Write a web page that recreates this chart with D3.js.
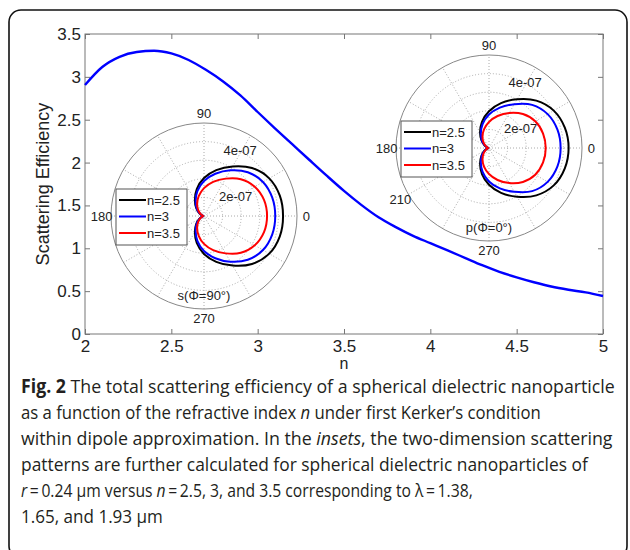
<!DOCTYPE html>
<html>
<head>
<meta charset="utf-8">
<script src="https://cdn.jsdelivr.net/npm/d3@7"></script>
<style>
  body { margin: 0; background: #fff; }
  svg { display: block; }
  svg text { font-family: "Liberation Sans", Arial, Helvetica, sans-serif; }
  svg .caption text { font-family: "Open Sans", "Noto Sans", sans-serif; fill: #231f20; }
</style>
</head>
<body>
<div id="chart"></div>
<script>
// main curve: total scattering efficiency vs refractive index n
const nValues = [2.0, 2.1, 2.2, 2.3, 2.4, 2.5, 2.6, 2.7, 2.8, 2.9, 3.0,
                 3.1, 3.2, 3.3, 3.4, 3.5, 3.6, 3.7, 3.8, 3.9, 4.0,
                 4.1, 4.2, 4.3, 4.4, 4.5, 4.6, 4.7, 4.8, 4.9, 5.0];
const efficiency = [2.905, 3.115, 3.234, 3.290, 3.304, 3.273, 3.197, 3.082, 2.946, 2.783, 2.590,
                    2.400, 2.215, 2.030, 1.847, 1.670, 1.507, 1.362, 1.247, 1.145, 1.060,
                    0.975, 0.889, 0.803, 0.726, 0.661, 0.604, 0.554, 0.516, 0.485, 0.443];
const xTicks = [2, 2.5, 3, 3.5, 4, 4.5, 5];
const yTicks = [0, 0.5, 1, 1.5, 2, 2.5, 3, 3.5];

// inset patterns, upper half (the lower half is the mirror image), units of 1e-07
const polarAngles = [0, 15, 30, 45, 60, 75, 90, 105, 120, 135, 150, 165, 180];
const sN25 = [4.25, 4.22, 4.05, 3.65, 3.08, 2.55, 2.04, 1.50, 0.98, 0.58, 0.28, 0.10, 0.04];
const sN3  = [3.83, 3.80, 3.66, 3.33, 2.84, 2.35, 1.88, 1.38, 0.90, 0.53, 0.25, 0.09, 0.04];
const sN35 = [3.39, 3.34, 3.15, 2.80, 2.32, 1.90, 1.50, 1.10, 0.74, 0.44, 0.21, 0.08, 0.04];
const pN25 = [4.28, 4.22, 4.02, 3.60, 3.02, 2.50, 1.98, 1.46, 0.96, 0.57, 0.27, 0.10, 0.04];
const pN3  = [3.85, 3.81, 3.64, 3.28, 2.72, 2.25, 1.80, 1.33, 0.88, 0.52, 0.25, 0.09, 0.04];
const pN35 = [3.05, 3.01, 2.87, 2.58, 2.18, 1.78, 1.40, 1.04, 0.70, 0.42, 0.20, 0.08, 0.04];
const legendLabels = ['n=2.5', 'n=3', 'n=3.5'];
const seriesColors = ['#000000', '#0000ff', '#ff0000'];
const ringValues = [1e-7, 2e-7, 3e-7, 4e-7, 5e-7];
const ringLabels = ['2e-07', '4e-07'];
const ringLabelValues = [2e-7, 4e-7];
const spokeAngles = [0, 30, 60, 90, 120, 150];
const sAngleLabels = [0, 90, 180, 270];
const pAngleLabels = [0, 90, 180, 210, 270];

const captionLines = [
  [{t: 'Fig. 2', b: true}, {t: ' The total scattering efficiency of a spherical dielectric nanoparticle'}],
  [{t: 'as a function of the refractive index '}, {t: 'n', i: true}, {t: ' under first Kerker\u2019s condition'}],
  [{t: 'within dipole approximation. In the '}, {t: 'insets', i: true}, {t: ', the two-dimension scattering'}],
  [{t: 'patterns are further calculated for spherical dielectric nanoparticles of'}],
  [{t: 'r', i: true}, {t: '\u2009=\u20090.24 \u00b5m versus '}, {t: 'n', i: true}, {t: '\u2009=\u20092.5, 3, and 3.5 corresponding to \u03bb\u2009=\u20091.38,'}],
  [{t: '1.65, and 1.93 \u00b5m'}]
];
const captionWidths = [594, 520, 592, 567, 452, 142];

const W = 630, H = 550;
const margin = { top: 34, right: 27, bottom: 216, left: 85 };

const svg = d3.select('#chart').append('svg')
    .attr('width', W)
    .attr('height', H);

svg.append('rect')
    .attr('x', 9).attr('y', 10)
    .attr('width', 618).attr('height', 548)
    .attr('rx', 12)
    .attr('fill', 'none')
    .attr('stroke', '#111')
    .attr('stroke-width', 1.6);

const x = d3.scaleLinear().domain([2, 5]).range([margin.left, W - margin.right]);
const y = d3.scaleLinear().domain([0, 3.5]).range([H - margin.bottom, margin.top]);

const axisColor = '#777';
function styleAxis(g) {
  g.attr('font-family', null).attr('font-size', null);
  g.select('.domain').remove();
  g.selectAll('line').attr('stroke', axisColor);
  g.selectAll('text').attr('fill', '#222').style('font-size', '17px');
}

svg.append('g')
    .attr('transform', 'translate(0,' + y(0) + ')')
    .call(d3.axisBottom(x).tickValues(xTicks).tickSize(-5).tickPadding(6).tickFormat(d3.format('')))
    .call(styleAxis);
svg.append('g')
    .attr('transform', 'translate(0,' + y(3.5) + ')')
    .call(d3.axisTop(x).tickValues(xTicks).tickSize(-5).tickFormat(''))
    .call(styleAxis);
svg.append('g')
    .attr('transform', 'translate(' + x(2) + ',0)')
    .call(d3.axisLeft(y).tickValues(yTicks).tickSize(-5).tickPadding(4).tickFormat(d3.format('')))
    .call(styleAxis);
svg.append('g')
    .attr('transform', 'translate(' + x(5) + ',0)')
    .call(d3.axisRight(y).tickValues(yTicks).tickSize(-5).tickFormat(''))
    .call(styleAxis);

svg.append('rect')
    .attr('x', x(2)).attr('y', y(3.5))
    .attr('width', x(5) - x(2)).attr('height', y(0) - y(3.5))
    .attr('fill', 'none')
    .attr('stroke', axisColor);

svg.append('text')
    .attr('transform', 'translate(49,' + ((y(0) + y(3.5)) / 2) + ') rotate(-90)')
    .attr('text-anchor', 'middle')
    .style('font-size', '18px')
    .attr('fill', '#222')
    .text('Scattering Efficiency');

svg.append('text')
    .attr('x', (x(2) + x(5)) / 2)
    .attr('y', 369)
    .attr('text-anchor', 'middle')
    .style('font-size', '16px')
    .attr('fill', '#222')
    .text('n');

// insets
const rScale = d3.scaleLinear().domain([0, 5e-7]).range([0, 93]);
const rad = a => a * Math.PI / 180;

function drawInset(cx, cy, series, angleLabels, modeLabel) {
  const g = svg.append('g').attr('transform', 'translate(' + cx + ',' + cy + ')');
  const R = rScale(5e-7);

  g.selectAll('line.spoke')
      .data(spokeAngles)
    .enter().append('line')
      .attr('x1', d => -R * Math.cos(rad(d)))
      .attr('y1', d => R * Math.sin(rad(d)))
      .attr('x2', d => R * Math.cos(rad(d)))
      .attr('y2', d => -R * Math.sin(rad(d)))
      .attr('stroke', '#aaa')
      .attr('stroke-dasharray', '1,2');

  g.selectAll('circle.ring')
      .data(ringValues)
    .enter().append('circle')
      .attr('r', d => rScale(d))
      .attr('fill', 'none')
      .attr('stroke', (d, i) => i === ringValues.length - 1 ? '#888' : '#aaa')
      .attr('stroke-dasharray', (d, i) => i === ringValues.length - 1 ? null : '1,2');

  g.selectAll('text.angle')
      .data(angleLabels)
    .enter().append('text')
      .attr('x', d => 1.1 * R * Math.cos(rad(d)))
      .attr('y', d => -1.1 * R * Math.sin(rad(d)))
      .attr('dy', '0.35em')
      .attr('text-anchor', 'middle')
      .style('font-size', '13px')
      .attr('fill', '#222')
      .text(d => d);

  const labelAngles = [32, 61];
  g.selectAll('text.rlabel')
      .data(ringLabelValues)
    .enter().append('text')
      .attr('x', (d, i) => rScale(d) * Math.cos(rad(labelAngles[i])))
      .attr('y', (d, i) => -rScale(d) * Math.sin(rad(labelAngles[i])))
      .attr('dy', '0.35em')
      .attr('text-anchor', 'middle')
      .style('font-size', '13px')
      .attr('fill', '#222')
      .text((d, i) => ringLabels[i]);

  const radial = d3.lineRadial()
      .angle(d => rad(90 - d[0]))
      .radius(d => rScale(d[1] * 1e-7))
      .curve(d3.curveCatmullRomClosed);

  series.forEach((vals, k) => {
    const upper = polarAngles.map((a, i) => [a, vals[i]]);
    const lower = polarAngles.slice(1, -1).reverse().map(a => [360 - a, vals[polarAngles.indexOf(a)]]);
    g.append('path')
        .datum(upper.concat(lower))
        .attr('d', radial)
        .attr('fill', 'none')
        .attr('stroke', seriesColors[k])
        .attr('stroke-width', 2);
  });

  g.append('text')
      .attr('x', 0).attr('y', 79)
      .attr('dy', '0.35em')
      .attr('text-anchor', 'middle')
      .style('font-size', '13px')
      .attr('fill', '#222')
      .text(modeLabel);

  const lg = g.append('g').attr('transform', 'translate(-88,-27)');
  lg.append('rect')
      .attr('width', 71).attr('height', 56)
      .attr('fill', '#fff')
      .attr('stroke', '#555');
  legendLabels.forEach((lab, i) => {
    const ly = 11 + i * 16.5;
    lg.append('line')
        .attr('x1', 3).attr('x2', 30)
        .attr('y1', ly).attr('y2', ly)
        .attr('stroke', seriesColors[i])
        .attr('stroke-width', 2);
    lg.append('text')
        .attr('x', 31).attr('y', ly)
        .attr('dy', '0.35em')
        .style('font-size', '13px')
        .attr('fill', '#222')
        .text(lab);
  });
}

drawInset(204, 216, [sN25, sN3, sN35], sAngleLabels, 's(\u03a6=90\u00b0)');
drawInset(489, 148, [pN25, pN3, pN35], pAngleLabels, 'p(\u03a6=0\u00b0)');

// main curve on top
const line = d3.line()
    .x((d, i) => x(nValues[i]))
    .y(d => y(d))
    .curve(d3.curveMonotoneX);

svg.append('path')
    .datum(efficiency)
    .attr('d', line)
    .attr('fill', 'none')
    .attr('stroke', '#0000ff')
    .attr('stroke-width', 2.4);

// caption: each line squeezed horizontally to the width it has in the figure
const caption = svg.append('g').attr('class', 'caption');
captionLines.forEach((segs, i) => {
  const row = caption.append('g');
  const t = row.append('text')
      .attr('x', 0)
      .attr('y', 0)
      .style('font-size', '19px');
  segs.forEach(s => {
    t.append('tspan')
        .style('font-weight', s.b ? 700 : 400)
        .style('font-style', s.i ? 'italic' : 'normal')
        .text(s.t);
  });
  const natural = t.node().getComputedTextLength();
  const sx = Math.min(1, captionWidths[i] / natural);
  row.attr('transform', 'translate(21,' + (393 + i * 26) + ') scale(' + sx + ',1)');
});
</script>
</body>
</html>
